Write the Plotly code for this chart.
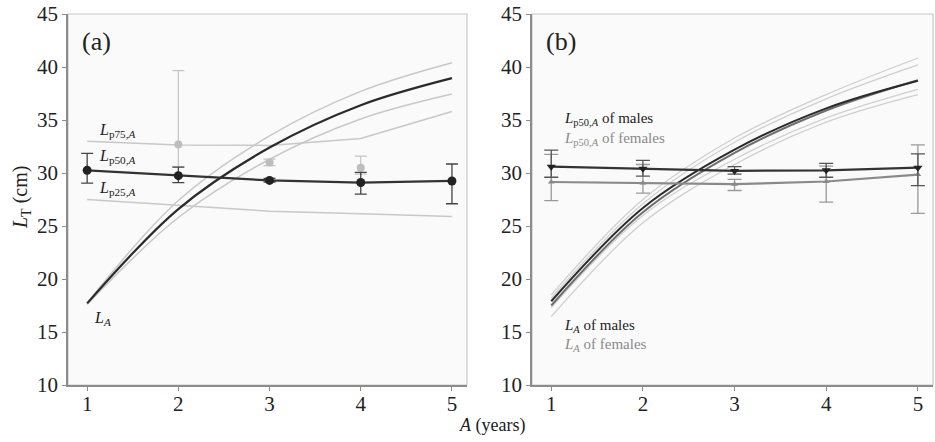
import plotly.graph_objects as go

ages = [1, 2, 3, 4, 5]

# Panel (a)
a_p50 = [30.25, 29.75, 29.3, 29.1, 29.25]
a_p50_hi = [31.85, 30.55, 29.5, 30.05, 30.85]
a_p50_lo = [29.05, 29.1, 29.15, 28.0, 27.1]
a_gray_ages = [2, 3, 4]
a_gray = [32.7, 31.0, 30.5]
a_gray_hi = [39.65, 31.3, 31.6]
a_gray_lo = [30.6, 30.7, 29.9]
a_p75 = [33.0, 32.65, 32.6, 33.25, 35.8]
a_p25 = [27.5, 26.95, 26.4, 26.15, 25.9]
a_LA = [17.7, 26.6, 32.4, 36.4, 38.95]
a_LA_up = [17.75, 27.4, 33.5, 37.7, 40.4]
a_LA_lo = [17.6, 25.8, 31.3, 35.1, 37.45]

# Panel (b)
m_p50 = [30.6, 30.4, 30.2, 30.25, 30.5]
m_p50_hi = [32.15, 31.2, 30.6, 30.9, 31.8]
m_p50_lo = [29.6, 29.7, 29.9, 29.6, 28.8]
f_p50 = [29.15, 29.05, 28.95, 29.2, 29.85]
f_p50_hi = [31.75, 30.8, 29.4, 30.65, 32.65]
f_p50_lo = [27.4, 28.1, 28.35, 27.25, 26.2]
m_LA = [17.9, 26.7, 32.2, 36.1, 38.7]
f_LA = [17.5, 26.3, 31.9, 35.9, 38.75]
m_LA_up = [18.5, 27.5, 33.3, 37.4, 40.85]
m_LA_lo = [17.3, 26.0, 31.3, 35.2, 37.9]
f_LA_up = [18.2, 27.1, 32.9, 37.0, 40.2]
f_LA_lo = [16.45, 25.3, 30.8, 34.8, 37.4]

x_ticks = [1, 2, 3, 4, 5]
y_ticks = [10, 15, 20, 25, 30, 35, 40, 45]

FONT = "Liberation Serif"
DARK = "#2b2b2b"
LIGHT = "#c8c8c8"

fig = go.Figure()


def err(vals, hi, lo):
    return dict(type="data", symmetric=False,
                array=[h - v for h, v in zip(hi, vals)],
                arrayminus=[v - l for v, l in zip(vals, lo)])


def line(x, y, color, width, xa, ya, shape="spline"):
    fig.add_trace(go.Scatter(x=x, y=y, mode="lines", line=dict(color=color, width=width, shape=shape),
                             xaxis=xa, yaxis=ya, showlegend=False, hoverinfo="skip"))


# ---- Panel (a)
line(ages, a_p75, LIGHT, 1.5, "x", "y", "linear")
line(ages, a_p25, LIGHT, 1.5, "x", "y", "linear")
line(ages, a_LA_up, LIGHT, 1.5, "x", "y")
line(ages, a_LA_lo, LIGHT, 1.5, "x", "y")
fig.add_trace(go.Scatter(x=a_gray_ages, y=a_gray, mode="markers",
                         marker=dict(color="#bdbdbd", size=8),
                         error_y=dict(**err(a_gray, a_gray_hi, a_gray_lo), color="#c4c4c4", thickness=1.2, width=6),
                         xaxis="x", yaxis="y", showlegend=False))
line(ages, a_LA, DARK, 2.2, "x", "y")
fig.add_trace(go.Scatter(x=ages, y=a_p50, mode="lines+markers",
                         line=dict(color="#333333", width=2.2),
                         marker=dict(color="#222222", size=9),
                         error_y=dict(**err(a_p50, a_p50_hi, a_p50_lo), color="#444444", thickness=1.3, width=6),
                         xaxis="x", yaxis="y", showlegend=False))

# ---- Panel (b)
for arr in (m_LA_up, m_LA_lo, f_LA_up, f_LA_lo):
    line(ages, arr, "#cfcfcf", 1.3, "x2", "y2")
line(ages, f_LA, "#6e6e6e", 2.0, "x2", "y2")
line(ages, m_LA, DARK, 2.0, "x2", "y2")
fig.add_trace(go.Scatter(x=ages, y=f_p50, mode="lines+markers",
                         line=dict(color="#8a8a8a", width=2.2),
                         marker=dict(color="#8a8a8a", size=6, symbol="triangle-up"),
                         error_y=dict(**err(f_p50, f_p50_hi, f_p50_lo), color="#9a9a9a", thickness=1.3, width=7),
                         xaxis="x2", yaxis="y2", showlegend=False))
fig.add_trace(go.Scatter(x=ages, y=m_p50, mode="lines+markers",
                         line=dict(color="#333333", width=2.2),
                         marker=dict(color="#222222", size=8, symbol="triangle-down"),
                         error_y=dict(**err(m_p50, m_p50_hi, m_p50_lo), color="#555555", thickness=1.3, width=7),
                         xaxis="x2", yaxis="y2", showlegend=False))

W, H = 935, 442
xd1 = [68 / W, 467 / W]
xd2 = [532 / W, 933 / W]
yd = [1 - 385 / H, 1 - 14 / H]

axis_common = dict(showline=True, linecolor="#8c8c8c", linewidth=1.5, ticks="outside",
                   ticklen=4, tickcolor="#8c8c8c", showgrid=False, zeroline=False, automargin=False,
                   tickfont=dict(family=FONT, size=21, color="#222222"))

fig.update_layout(
    width=W, height=H,
    margin=dict(l=0, r=0, t=0, b=0, pad=0, autoexpand=False),
    paper_bgcolor="white",
    plot_bgcolor="#fafafa",
    font=dict(family=FONT, color="#222222"),
    xaxis=dict(domain=xd1, range=[0.79, 5.165], tickvals=x_ticks, anchor="y", ticklabelstandoff=-5, **axis_common),
    yaxis=dict(domain=yd, range=[10, 45], tickvals=y_ticks, anchor="x", **axis_common),
    xaxis2=dict(domain=xd2, range=[0.79, 5.165], tickvals=x_ticks, anchor="y2", ticklabelstandoff=-5, **axis_common),
    yaxis2=dict(domain=yd, range=[10, 45], tickvals=y_ticks, anchor="x2", **axis_common),
)

# Light frame (top/right)
for xr in ("x", "x2"):
    fig.add_shape(type="rect", xref=f"{xr} domain", yref="y domain", x0=0, x1=1, y0=0, y1=1,
                  line=dict(color="#c8c8c8", width=1.2), layer="below")

ann = []


def t(x, y, text, xref, yref="y", color="#222222", size=16, xanchor="left"):
    ann.append(dict(x=x, y=y, xref=xref, yref=yref, text=text, showarrow=False,
                    xanchor=xanchor, yanchor="middle", font=dict(family=FONT, size=size, color=color)))


t(0.03, 0.925, "(a)", "x domain", "y domain", size=26)
t(0.03, 0.925, "(b)", "x2 domain", "y2 domain", size=26)
t(1.11, 34.0, "<i>L</i><sub>p75,<i>A</i></sub>", "x")
t(1.11, 31.6, "<i>L</i><sub>p50,<i>A</i></sub>", "x")
t(1.11, 28.5, "<i>L</i><sub>p25,<i>A</i></sub>", "x")
t(1.05, 16.3, "<i>L</i><sub><i>A</i></sub>", "x")
t(1.12, 35.1, "<i>L</i><sub>p50,<i>A</i></sub> of males", "x2", "y2", size=15)
t(1.12, 33.2, "<i>L</i><sub>p50,<i>A</i></sub> of females", "x2", "y2", color="#8a8a8a", size=15)
t(1.12, 15.6, "<i>L</i><sub><i>A</i></sub> of males", "x2", "y2", size=15)
t(1.12, 13.8, "<i>L</i><sub><i>A</i></sub> of females", "x2", "y2", color="#8a8a8a", size=15)

ann.append(dict(x=492 / W, y=1 - 425 / H, xref="paper", yref="paper", showarrow=False,
                text="<i>A</i> (years)", font=dict(family=FONT, size=18, color="#222222"),
                xanchor="center", yanchor="middle"))
ann.append(dict(x=22 / W, y=1 - 198 / H, xref="paper", yref="paper", showarrow=False,
                textangle=-90, text="<i>L</i><sub>T</sub> (cm)",
                font=dict(family=FONT, size=20, color="#222222"),
                xanchor="center", yanchor="middle"))
fig.update_layout(annotations=ann)

# Remove the browser's default 8px body margin so the figure fills the window exactly.
fig.write_html("out.html", config={"displayModeBar": False},
               post_script="document.body.style.margin='0px';document.body.style.overflow='hidden';")
